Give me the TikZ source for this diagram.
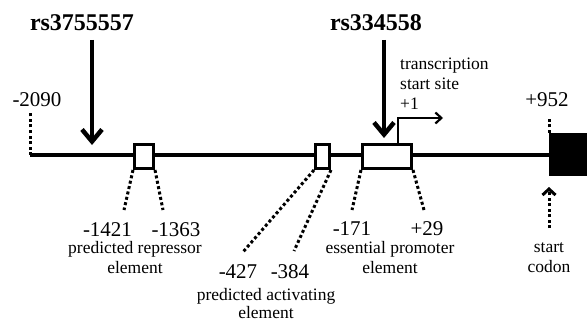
\documentclass[tikz,border=0pt]{standalone}
\usepackage{fontspec}
\setmainfont{Liberation Serif}
\usetikzlibrary{arrows.meta}
\tikzset{
  gene/.style={line width=3.5pt},
  elem/.style={draw, line width=3pt, fill=white, inner sep=0, minimum height=24pt},
  dots/.style={line width=3pt, dash pattern=on 3pt off 2.5pt},
  snp/.style={line width=4.5pt, -{Straight Barb[length=12pt,width=20pt]}},
  num/.style={inner sep=0, font=\fontsize{21}{24}\selectfont},
  lab/.style={inner sep=0, align=center, font=\fontsize{17.5}{20}\selectfont},
  snplab/.style={inner sep=0, font=\bfseries\fontsize{24}{26}\selectfont}
}
\begin{document}
\begin{tikzpicture}[x=1pt,y=-1pt]
  \useasboundingbox (0,0) rectangle (587,321);
  % promoter line and elements
  \coordinate (up) at (30,155);
  \coordinate (atg) at (549,155);
  \draw[gene] (up) -- (atg);
  \node[elem, minimum width=19pt] (rep) at (144,156.5) {};
  \node[elem, minimum width=14pt] (act) at (322.5,156.5) {};
  \node[elem, minimum width=49pt] (prom) at (387,156.5) {};
  \node[fill=black, inner sep=0, minimum width=38pt, minimum height=43pt, anchor=west] (cds) at (549,154.5) {};
  % ends of the region
  \node[num] (n2090) at (37,100) {-2090};
  \coordinate (n2090end) at (30,113);
  \draw[dots] (up) -- (n2090end);
  \node[num] (n952) at (547,100) {+952};
  \coordinate (n952end) at (549,118);
  \draw[dots] (cds.north west) -- (n952end);
  % SNPs
  \node[snplab] (snpA) at (82,23) {rs3755557};
  \coordinate (snpAtop) at (92,40);
  \coordinate (snpAtip) at (92,145);
  \draw[snp] (snpAtop) -- (snpAtip);
  \node[snplab] (snpB) at (376,23) {rs334558};
  \coordinate (snpBtop) at (384,40);
  \coordinate (snpBtip) at (384,138);
  \draw[snp] (snpBtop) -- (snpBtip);
  % transcription start site
  \coordinate (tss) at (398,143);
  \coordinate (tssbend) at (398,118);
  \coordinate (tsstip) at (443,118);
  \draw[line width=2.2pt, -{Straight Barb[length=6pt,width=11pt]}] (tss) -- (tssbend) -- (tsstip);
  \node[lab, align=left, anchor=north west] (tsslab) at (400,58) {transcription\\start site\\+1};
  % repressor element
  \coordinate (repL) at (124,210);
  \coordinate (repR) at (163,210);
  \draw[dots] (rep.south west) -- (repL);
  \draw[dots] (rep.south east) -- (repR);
  \node[num] (n1421) at (107.5,230) {-1421};
  \node[num] (n1363) at (176,230) {-1363};
  \node[lab] (replab) at (135,258) {predicted repressor\\element};
  % activating element
  \coordinate (actL) at (243,252);
  \coordinate (actR) at (294,251);
  \draw[dots] (act.south west) -- (actL);
  \draw[dots] (act.south east) -- (actR);
  \node[num] (n427) at (238,272) {-427};
  \node[num] (n384) at (290,272) {-384};
  \node[lab, font=\fontsize{17.5}{18}\selectfont] (actlab) at (266,303.5) {predicted activating\\element};
  % essential promoter
  \coordinate (promL) at (352,210);
  \coordinate (promR) at (424,210);
  \draw[dots] (prom.south west) -- (promL);
  \draw[dots] (prom.south east) -- (promR);
  \node[num] (n171) at (352,229) {-171};
  \node[num] (n29) at (427,229) {+29};
  \node[lab] (promlab) at (390,258) {essential promoter\\element};
  % start codon
  \coordinate (atgtail) at (549,228);
  \coordinate (atgtip) at (549,187);
  \draw[dots, -{Straight Barb[length=6pt,width=13pt]}] (atgtail) -- (atgtip);
  \node[lab] (atglab) at (549,258) {start\\codon};
\end{tikzpicture}
\end{document}
